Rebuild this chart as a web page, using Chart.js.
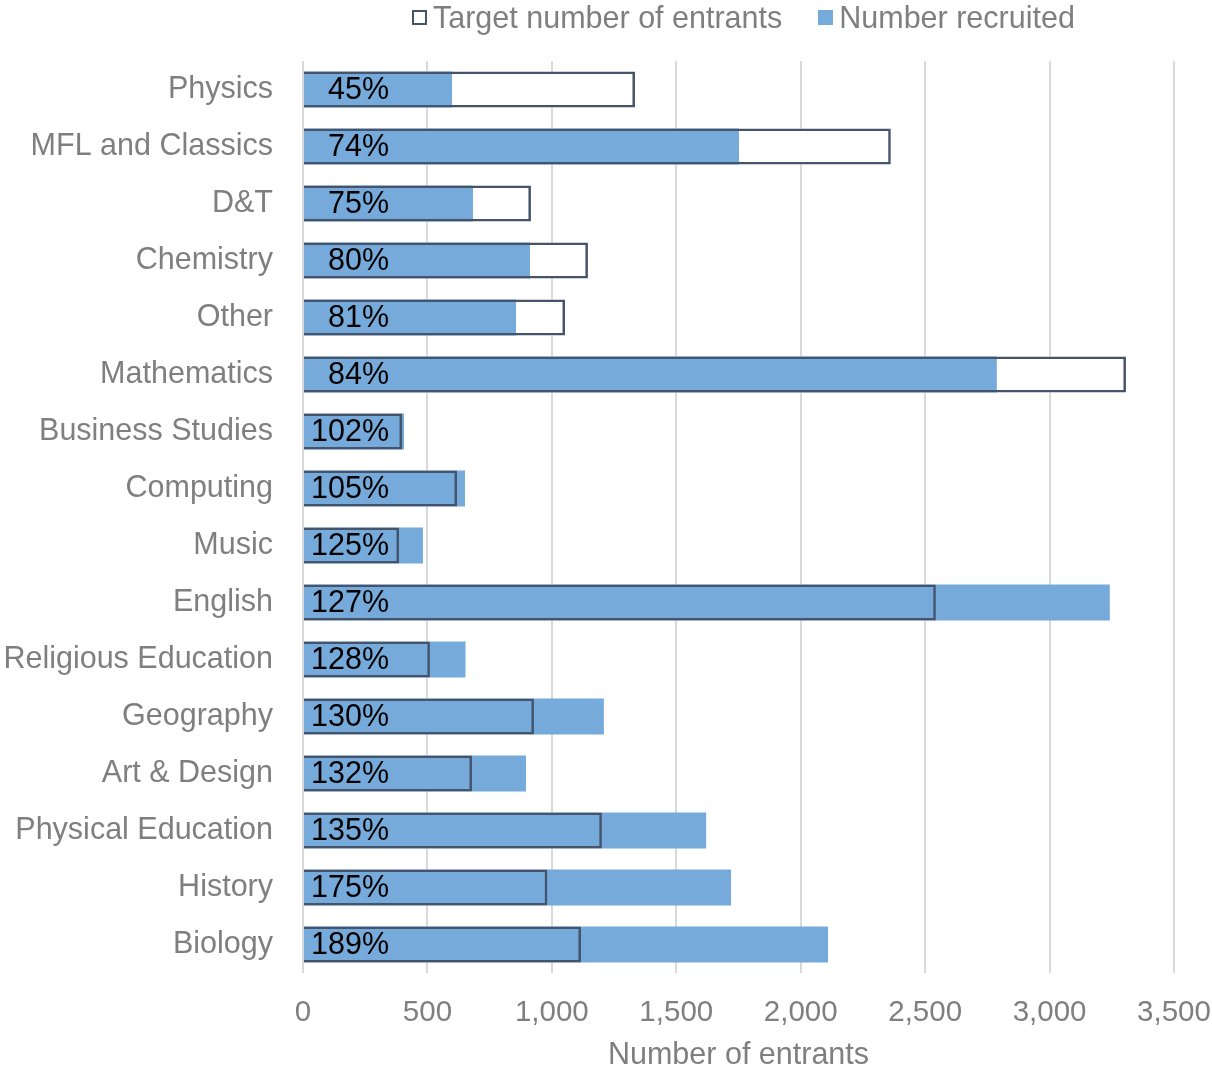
<!DOCTYPE html>
<html>
<head>
<meta charset="utf-8">
<script src="https://cdn.jsdelivr.net/npm/chart.js@4.4.1/dist/chart.umd.min.js"></script>
<style>
  html, body { margin: 0; padding: 0; background: #fff; }
  #wrap { position: relative; width: 1212px; height: 1068px; }
  #legend {
    position: absolute; left: 412px; top: 0; height: 35px;
    display: flex; align-items: center;
    font: 30.5px "Liberation Sans", Arial, sans-serif; color: #7f7f7f;
  }
  #legend span.box { display: inline-block; width: 15px; height: 15px; box-sizing: border-box; margin-right: 6px; }
  #legend span.item { display: flex; align-items: center; margin-right: 36px; white-space: nowrap; }
</style>
</head>
<body>
<div id="wrap">
  <canvas id="chart"></canvas>
  <div id="legend"></div>
</div>
<script>
// Subjects, top to bottom
const subjects = ['Physics', 'MFL and Classics', 'D&T', 'Chemistry', 'Other', 'Mathematics',
  'Business Studies', 'Computing', 'Music', 'English', 'Religious Education', 'Geography',
  'Art & Design', 'Physical Education', 'History', 'Biology'];

// Target number of entrants
const targets = [1334, 2362, 916, 1145, 1053, 3307, 398, 619, 386, 2543, 510, 928, 679, 1201, 982, 1117];

// Number recruited
const recruited = [599, 1752, 683, 912, 856, 2788, 406, 651, 482, 3242, 653, 1209, 896, 1620, 1720, 2110];

const xTicks = [0, 500, 1000, 1500, 2000, 2500, 3000, 3500];

const textGrey = '#7f7f7f';
const outline = '#44546a';
const blue = '#76aadb';
const fontFamily = '"Liberation Sans", Arial, sans-serif';
const fontSize = 30.5;

// légende en HTML au-dessus du graphique
const legendItems = [
  { text: 'Target number of entrants', style: 'background:#fff;border:2px solid ' + outline },
  { text: 'Number recruited', style: 'background:' + blue }
];
document.getElementById('legend').innerHTML = legendItems
  .map(it => `<span class="item"><span class="box" style="${it.style}"></span>${it.text}</span>`)
  .join('');

// pourcentage recrutés / objectif, écrit dans chaque barre
const pctLabels = {
  id: 'pctLabels',
  afterDatasetsDraw(chart) {
    const ctx = chart.ctx;
    const x0 = chart.scales.x.getPixelForValue(0);
    const meta = chart.getDatasetMeta(0);
    ctx.save();
    ctx.font = fontSize + 'px ' + fontFamily;
    ctx.fillStyle = '#000';
    ctx.textAlign = 'right';
    ctx.textBaseline = 'middle';
    meta.data.forEach((bar, i) => {
      const pct = Math.round(recruited[i] / targets[i] * 100);
      ctx.fillText(pct + '%', x0 + 86, bar.y + 1);
    });
    ctx.restore();
  }
};

new Chart(document.getElementById('chart'), {
  type: 'bar',
  data: {
    labels: subjects,
    datasets: [
      {
        label: 'Target number of entrants',
        data: targets,
        backgroundColor: 'rgba(255,255,255,0)',
        borderColor: outline,
        borderWidth: 2.5,
        grouped: false,
        order: 0
      },
      {
        label: 'Number recruited',
        data: recruited,
        backgroundColor: blue,
        borderWidth: 0,
        grouped: false,
        order: 1
      },
      {
        // fond blanc des objectifs, sous les barres bleues
        label: 'fill',
        data: targets,
        backgroundColor: '#fff',
        borderWidth: 0,
        grouped: false,
        order: 2
      }
    ]
  },
  options: {
    indexAxis: 'y',
    responsive: true,
    maintainAspectRatio: false,
    animation: false,
    barPercentage: 0.63,
    categoryPercentage: 1,
    layout: { padding: { left: 0, right: 0, top: 61, bottom: -3 } },
    plugins: {
      tooltip: { enabled: false },
      legend: { display: false }
    },
    scales: {
      x: {
        min: 0,
        max: 3500,
        afterBuildTicks(axis) { axis.ticks = xTicks.map(v => ({ value: v })); },
        afterFit(axis) {
          axis.height = 98;
          axis.paddingLeft = 0;
          axis.paddingRight = 38;
        },
        grid: { color: '#d9d9d9', lineWidth: 2, drawTicks: false },
        border: { display: false },
        ticks: {
          color: textGrey,
          font: { family: fontFamily, size: 29.5 },
          padding: 22,
          callback: v => v.toLocaleString('en-GB')
        },
        title: {
          display: true,
          text: 'Number of entrants',
          color: textGrey,
          font: { family: fontFamily, size: fontSize },
          padding: { top: 6, bottom: -3 }
        }
      },
      y: {
        afterFit(axis) { axis.width = 303; },
        grid: { display: false, drawTicks: false },
        border: { display: false },
        ticks: {
          color: textGrey,
          font: { family: fontFamily, size: fontSize },
          padding: 30
        }
      }
    }
  },
  plugins: [pctLabels]
});
</script>
</body>
</html>
